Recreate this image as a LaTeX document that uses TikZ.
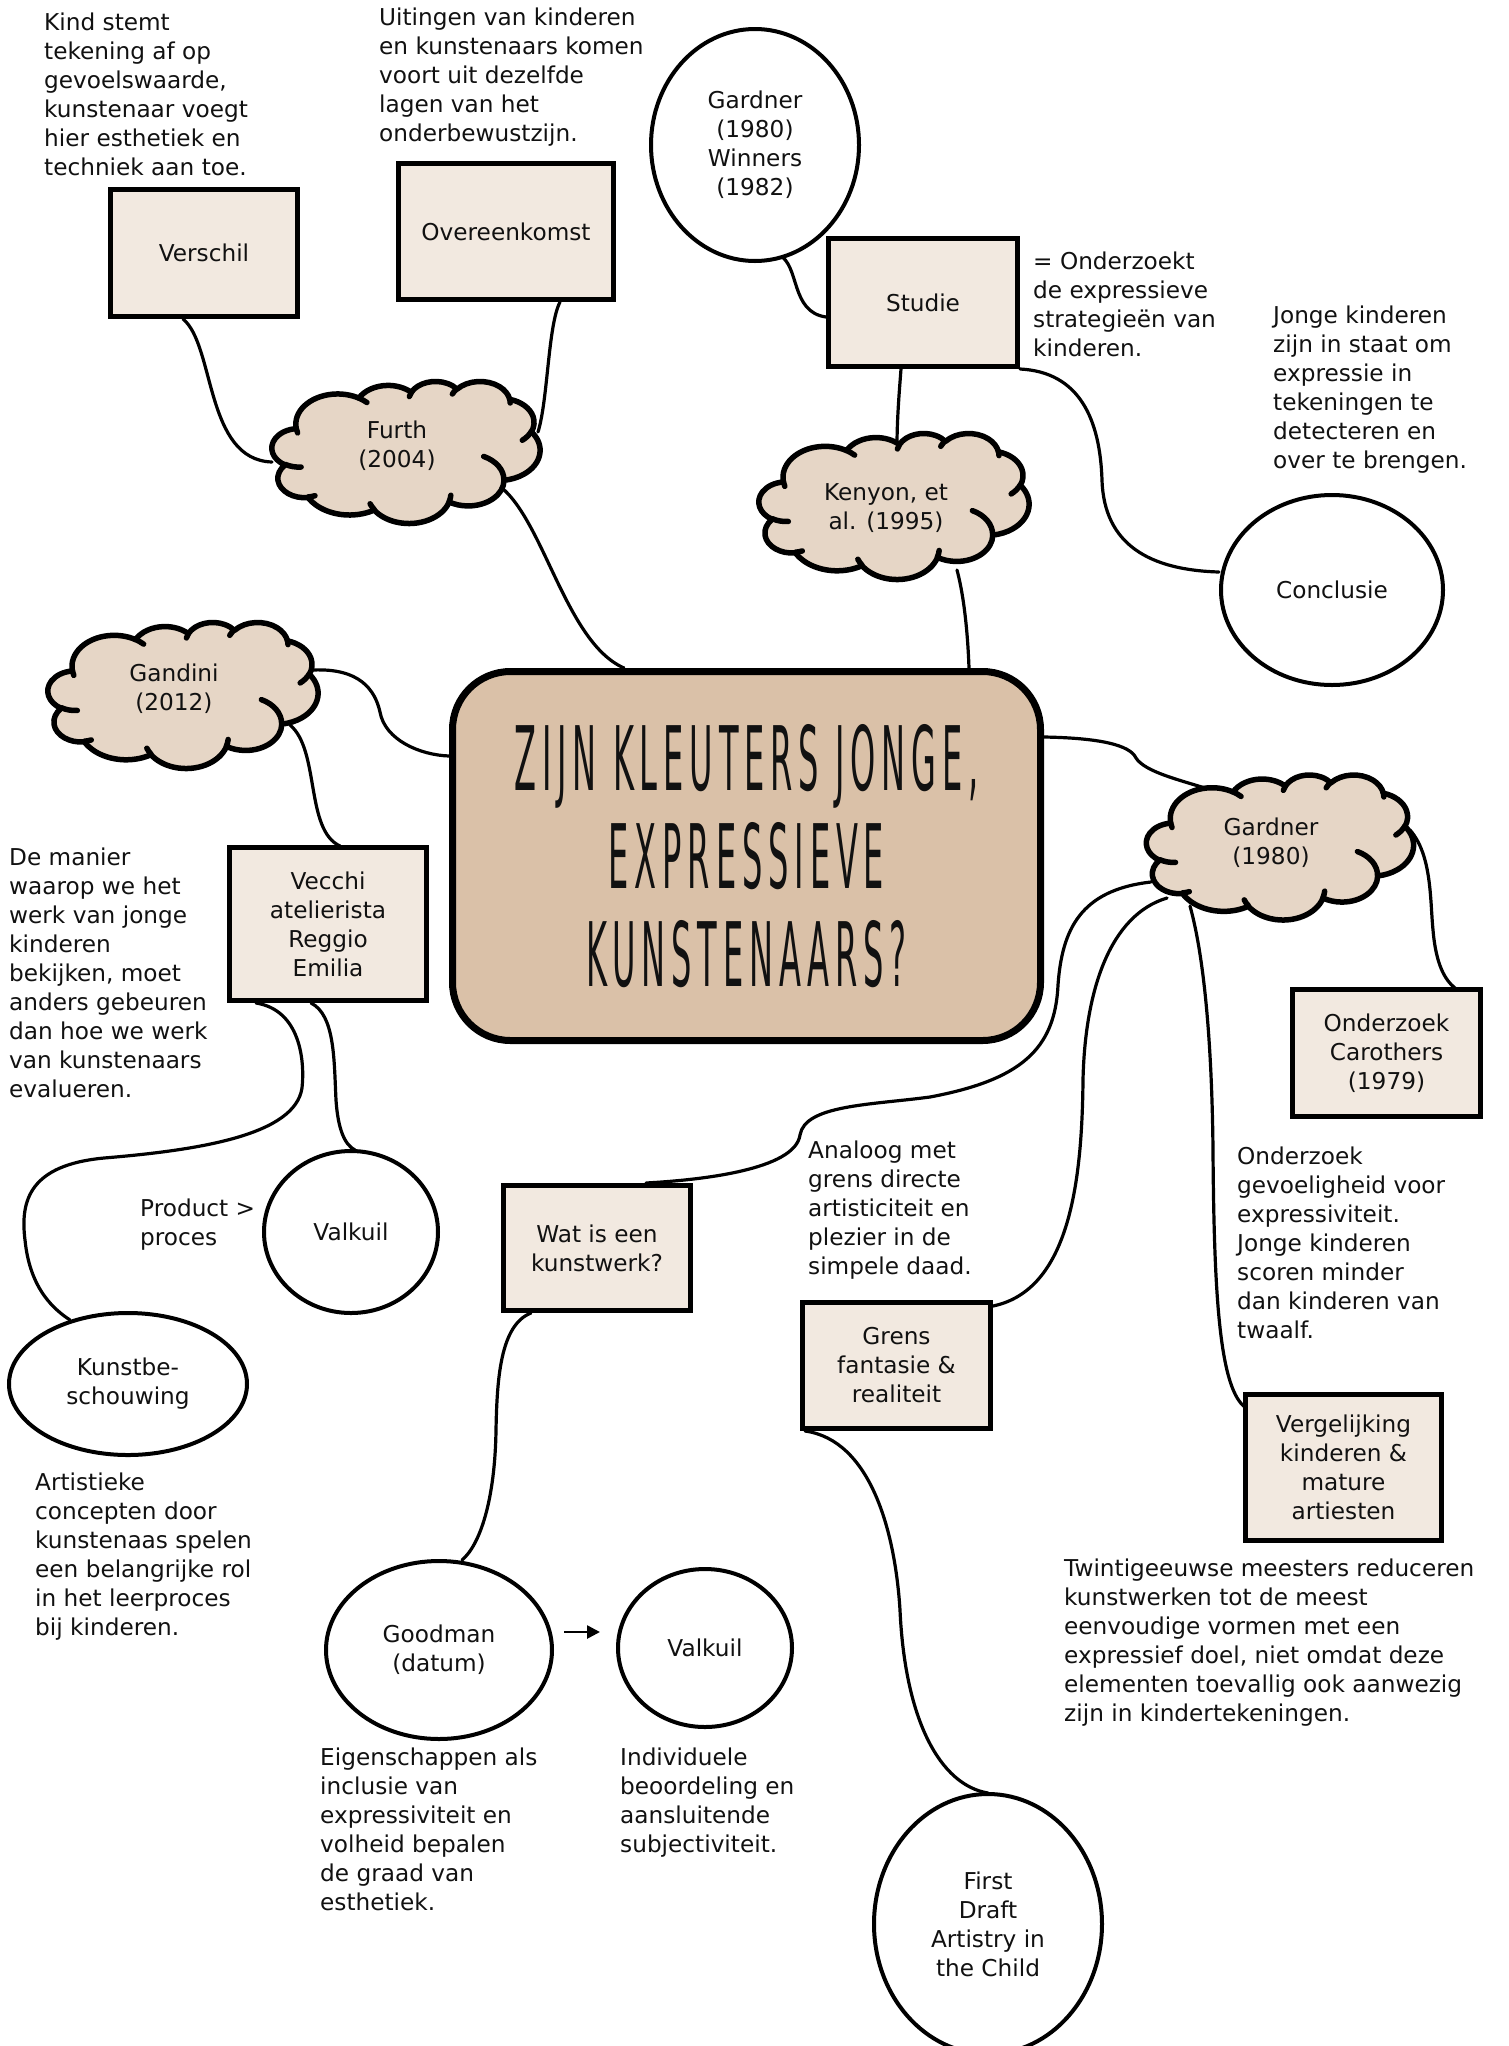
\documentclass[tikz,border=0pt]{standalone}
\usepackage{fontspec}
\setmainfont{DejaVu Sans}
\newfontfamily\titlefont[FakeStretch=0.36, LetterSpace=6.6]{DejaVu Sans}
\usetikzlibrary{calc,backgrounds,arrows.meta,shapes.geometric}

\definecolor{centralfill}{HTML}{DAC1A8}
\definecolor{cloudfill}{HTML}{E6D6C6}
\definecolor{boxfill}{HTML}{F2E9E0}
\definecolor{ink}{HTML}{111111}

% Elliptic arc given by radii and a visual start angle / sweep (path units of 1/100 of 43200)
\newcommand\mkcloudarc[5]{%
  \pgfmathsetmacro\cloudta{atan2((#2)*sin(#4),(#3)*cos(#4))}%
  \pgfmathsetmacro\cloudtb{atan2((#2)*sin((#4)+(#5)),(#3)*cos((#4)+(#5)))}%
  \pgfmathsetmacro\cloudtd{(\cloudtb)-(\cloudta)}%
  \pgfmathsetmacro\cloudtd{(\cloudtd)+360*round(((#5)-(\cloudtd))/360)}%
  \expandafter\xdef\csname cloudarc#1\endcsname{arc[x radius=#2, y radius=#3, start angle=\cloudta, delta angle=\cloudtd]}%
}
% outline of the cloud
\mkcloudarc{A}{67.53}{91.90}{-190.4875}{123.7805}
\mkcloudarc{B}{53.33}{72.67}{-144.1024}{89.9452}
\mkcloudarc{C}{43.65}{59.45}{-145.8079}{99.7230}
\mkcloudarc{D}{48.57}{65.95}{-130.9861}{117.2417}
\mkcloudarc{E}{53.33}{72.73}{-78.7089}{109.0269}
\mkcloudarc{F}{67.75}{92.20}{-46.2673}{130.2690}
\mkcloudarc{G}{57.85}{78.67}{0.6250}{114.0333}
\mkcloudarc{H}{67.52}{92.15}{22.4516}{115.1726}
\mkcloudarc{I}{77.20}{105.43}{66.2426}{75.7110}
\mkcloudarc{J}{43.60}{59.18}{-274.9421}{146.7356}
\mkcloudarc{K}{43.45}{59.45}{-246.8285}{152.5189}
% short inner strokes of the cloud
\mkcloudarc{IA}{43.45}{59.45}{86.7420}{26.4295}
\mkcloudarc{IB}{43.60}{59.18}{73.6105}{11.4475}
\mkcloudarc{IC}{67.52}{92.15}{137.6242}{14.0811}
\mkcloudarc{ID}{67.52}{92.15}{6.4533}{15.9984}
\mkcloudarc{IE}{57.85}{78.67}{-70.2924}{70.9174}
\mkcloudarc{IF}{53.33}{72.73}{30.3180}{27.7515}
\mkcloudarc{IG}{48.57}{65.95}{-13.7443}{14.8589}
\mkcloudarc{IH}{48.57}{65.95}{-149.1815}{18.1954}
\mkcloudarc{II}{43.65}{59.45}{-163.4943}{17.6864}
\mkcloudarc{IJ}{67.53}{91.90}{-66.7070}{12.3194}
\mkcloudarc{IK}{67.53}{91.90}{157.6544}{11.8582}

\def\cloudoutline{(39,143.7) \cloudarcA \cloudarcB \cloudarcC \cloudarcD \cloudarcE \cloudarcF \cloudarcG \cloudarcH \cloudarcI \cloudarcJ \cloudarcK -- cycle}
\def\cloudinner{(46.93,261.77) \cloudarcIA (69.28,348.99) \cloudarcIB (164.78,390.90) \cloudarcIC (288.27,347.51) \cloudarcID (341.29,229.54) \cloudarcIE (417.98,153.54) \cloudarcIF (383.24,54.26) \cloudarcIG (290.78,39.52) \cloudarcIH (221.41,47.20) \cloudarcII (140.00,51.92) \cloudarcIJ (41.27,157.89) \cloudarcIK}

% cloud drawn around a centre point with a given outline width and height
\newcommand\drawcloud[4]{%
  \pgfmathsetmacro\cloudsx{(#3)/432}\pgfmathsetmacro\cloudsy{(#4)/432}%
  \begin{scope}[shift={(#1-#3/2,#2-#4/2)}, x=\cloudsx pt, y=-\cloudsy pt]
    \fill[cloudfill] \cloudoutline;
    \draw[cloudline] \cloudoutline;
    \draw[cloudline] \cloudinner;
  \end{scope}}

\tikzset{
  every node/.style={font=\fontsize{23.2}{29}\selectfont, text=ink},
  rectnode/.style={draw=black, line width=5pt, fill=boxfill, align=center, inner sep=0pt},
  oval/.style={ellipse, draw=black, line width=4pt, fill=white, align=center, inner sep=0pt},
  cloudarea/.style={rectangle, inner sep=0pt},
  cloudtext/.style={align=center, inner sep=0pt},
  note/.style={align=left, anchor=north west, inner sep=0pt},
  conn/.style={line width=3.2pt, line cap=round, draw=black},
  cloudline/.style={draw=black, line width=5.5pt, line join=round, line cap=round},
}

\begin{document}
\begin{tikzpicture}[x=1pt,y=-1pt]
\useasboundingbox (0,0) rectangle (1509,2046);

% central question
\node[draw=black, line width=7pt, fill=centralfill, rounded corners=58pt,
      minimum width=588pt, minimum height=369pt, align=center, inner sep=0pt,
      font=\titlefont\fontsize{89}{98}\selectfont] (central) at (746.5,856)
  {ZIJN KLEUTERS JONGE,\\EXPRESSIEVE\\KUNSTENAARS?};

% rectangles
\node[rectnode, minimum width=187pt, minimum height=127pt] (verschil) at (204,253) {Verschil};
\node[rectnode, minimum width=215pt, minimum height=136pt] (overeen) at (506,231.5) {Overeenkomst};
\node[rectnode, minimum width=189pt, minimum height=128pt] (studie) at (923,302.5) {Studie};
\node[rectnode, minimum width=197pt, minimum height=153pt] (vecchi) at (328,924) {Vecchi\\atelierista\\Reggio\\Emilia};
\node[rectnode, minimum width=188pt, minimum height=127pt] (carothers) at (1386.5,1053) {Onderzoek\\Carothers\\(1979)};
\node[rectnode, minimum width=187pt, minimum height=125pt] (wat) at (597,1248) {Wat is een\\kunstwerk?};
\node[rectnode, minimum width=188pt, minimum height=126pt] (grens) at (896.5,1365.5) {Grens\\fantasie \&\\realiteit};
\node[rectnode, minimum width=196pt, minimum height=146pt] (vergelijking) at (1343.5,1467.5) {Vergelijking\\kinderen \&\\mature\\artiesten};

% ellipses
\node[oval, minimum width=208pt, minimum height=232pt] (gw) at (755,145) {Gardner\\(1980)\\Winners\\(1982)};
\node[oval, minimum width=222pt, minimum height=190pt] (conclusie) at (1332,590) {Conclusie};
\node[oval, minimum width=174pt, minimum height=162pt] (valkuilA) at (351,1232) {Valkuil};
\node[oval, minimum width=238pt, minimum height=142pt] (kunst) at (128,1384) {Kunstbe-\\schouwing};
\node[oval, minimum width=226pt, minimum height=178pt] (goodman) at (439,1650) {Goodman\\(datum)};
\node[oval, minimum width=174pt, minimum height=158pt] (valkuilB) at (705,1648) {Valkuil};
\node[oval, minimum width=228pt, minimum height=260pt] (firstdraft) at (988,1924) {First\\Draft\\Artistry in\\the Child};

% clouds
\drawcloud{406}{452}{268}{142}
\node[cloudarea, minimum width=268pt, minimum height=142pt] (furth) at (406,452) {};
\node[cloudtext] (furthtext) at (397,446) {Furth\\(2004)};
\drawcloud{894}{506}{270}{146}
\node[cloudarea, minimum width=270pt, minimum height=146pt] (kenyon) at (894,506) {};
\node[cloudtext] (kenyontext) at (886,508) {Kenyon, et\\al. (1995)};
\drawcloud{183}{695}{270}{146}
\node[cloudarea, minimum width=270pt, minimum height=146pt] (gandini) at (183,695) {};
\node[cloudtext] (ganditext) at (174,689) {Gandini\\(2012)};
\drawcloud{1280}{847}{267}{145}
\node[cloudarea, minimum width=267pt, minimum height=145pt] (gardner) at (1280,847) {};
\node[cloudtext] (gardnertext) at (1271,843) {Gardner\\(1980)};

% free notes
\node[note] (kind) at (44,13) {Kind stemt\\tekening af op\\gevoelswaarde,\\kunstenaar voegt\\hier esthetiek en\\techniek aan toe.};
\node[note] (uitingen) at (379,8) {Uitingen van kinderen\\en kunstenaars komen\\voort uit dezelfde\\lagen van het\\onderbewustzijn.};
\node[note] (onderzoekt) at (1033,252) {= Onderzoekt\\de expressieve\\strategieën van\\kinderen.};
\node[note] (jonge) at (1273,306) {Jonge kinderen\\zijn in staat om\\expressie in\\tekeningen te\\detecteren en\\over te brengen.};
\node[note] (manier) at (9,848) {De manier\\waarop we het\\werk van jonge\\kinderen\\bekijken, moet\\anders gebeuren\\dan hoe we werk\\van kunstenaars\\evalueren.};
\node[note] (product) at (140,1199) {Product >\\proces};
\node[note] (artistiek) at (35,1473) {Artistieke\\concepten door\\kunstenaas spelen\\een belangrijke rol\\in het leerproces\\bij kinderen.};
\node[note] (analoog) at (808,1141) {Analoog met\\grens directe\\artisticiteit en\\plezier in de\\simpele daad.};
\node[note] (gevoelig) at (1237,1147) {Onderzoek\\gevoeligheid voor\\expressiviteit.\\Jonge kinderen\\scoren minder\\dan kinderen van\\twaalf.};
\node[note] (twintig) at (1064,1559) {Twintigeeuwse meesters reduceren\\kunstwerken tot de meest\\eenvoudige vormen met een\\expressief doel, niet omdat deze\\elementen toevallig ook aanwezig\\zijn in kindertekeningen.};
\node[note] (eigenschappen) at (320,1748) {Eigenschappen als\\inclusie van\\expressiviteit en\\volheid bepalen\\de graad van\\esthetiek.};
\node[note] (individueel) at (620,1748) {Individuele\\beoordeling en\\aansluitende\\subjectiviteit.};

% connectors, behind the shapes
\begin{pgfonlayer}{background}
\draw[conn] ($(verschil.center)+(-21,66)$) .. controls (215,345) and (205,460) .. ($(furth.center)+(-134,10)$);
\draw[conn] ($(overeen.center)+(54,70.5)$) .. controls (548,325) and (548,400) .. ($(furth.center)+(132,-20)$);
\draw[conn] ($(furth.center)+(80,27)$) .. controls (540,495) and (560,640) .. ($(central.center)+(-122.5,-188)$);
\draw[conn] ($(gw.center)+(24,110)$) .. controls (800,265) and (790,312) .. ($(studie.center)+(-97,14.5)$);
\draw[conn] ($(studie.center)+(-22,66.5)$) .. controls (899,395) and (897,420) .. ($(kenyon.center)+(3,-60)$);
\draw[conn] ($(studie.center)+(97,66.5)$) .. controls (1080,372) and (1100,420) .. (1102,480)
  .. controls (1104,545) and (1150,570) .. ($(conclusie.center)+(-113,-18)$);
\draw[conn] ($(kenyon.center)+(63,64)$) .. controls (965,600) and (968,640) .. ($(central.center)+(222.5,-188)$);
\draw[conn] ($(gandini.center)+(130,-25)$) .. controls (360,668) and (375,690) .. (380,712)
  .. controls (385,740) and (420,755) .. ($(central.center)+(-297.5,-100)$);
\draw[conn] ($(gandini.center)+(107,30)$) .. controls (320,750) and (305,830) .. ($(vecchi.center)+(12,-78)$);
\draw[conn] ($(vecchi.center)+(-72,79)$) .. controls (300,1010) and (305,1060) .. (302,1088)
  .. controls (295,1135) and (200,1150) .. (104,1158)
  .. controls (30,1165) and (20,1200) .. (25,1240)
  .. controls (30,1290) and (55,1310) .. ($(kunst.center)+(-58,-64)$);
\draw[conn] ($(vecchi.center)+(-17,79)$) .. controls (335,1015) and (334,1060) .. (336,1100)
  .. controls (338,1130) and (345,1145) .. ($(valkuilA.center)+(4,-82)$);
\draw[conn] ($(central.center)+(297.5,-119)$) .. controls (1100,738) and (1130,745) .. (1136,758)
  .. controls (1145,772) and (1180,780) .. ($(gardner.center)+(-72,-58)$);
\draw[conn] ($(gardner.center)+(-129,35)$) .. controls (1080,890) and (1062,930) .. (1058,985)
  .. controls (1055,1050) and (1020,1080) .. (930,1097)
  .. controls (870,1105) and (805,1105) .. (800,1135)
  .. controls (795,1170) and (700,1180) .. ($(wat.center)+(49,-65)$);
\draw[conn] ($(gardner.center)+(-113,51)$) .. controls (1110,915) and (1085,990) .. (1083,1080)
  .. controls (1082,1180) and (1070,1290) .. ($(grens.center)+(96.5,-59.5)$);
\draw[conn] ($(gardner.center)+(-90,59)$) .. controls (1205,960) and (1212,1050) .. (1213,1150)
  .. controls (1214,1300) and (1220,1390) .. ($(vergelijking.center)+(-97.5,-59.5)$);
\draw[conn] ($(gardner.center)+(130,-17)$) .. controls (1432,855) and (1430,900) .. (1433,930)
  .. controls (1436,965) and (1445,980) .. ($(carothers.center)+(68.5,-65)$);
\draw[conn] ($(wat.center)+(-66,65)$) .. controls (500,1325) and (497,1380) .. (496,1430)
  .. controls (495,1500) and (480,1545) .. ($(goodman.center)+(23,-90)$);
\draw[conn] ($(grens.center)+(-91.5,65.5)$) .. controls (870,1440) and (895,1530) .. (900,1610)
  .. controls (905,1720) and (940,1785) .. ($(firstdraft.center)+(0,-131)$);
\end{pgfonlayer}

% arrow from Goodman to the pitfall
\draw[line width=2.6pt, -{Triangle[length=13pt,width=13pt]}] ($(goodman.center)+(125,-18)$) -- ($(valkuilB.center)+(-105,-16)$);
\end{tikzpicture}
\end{document}
